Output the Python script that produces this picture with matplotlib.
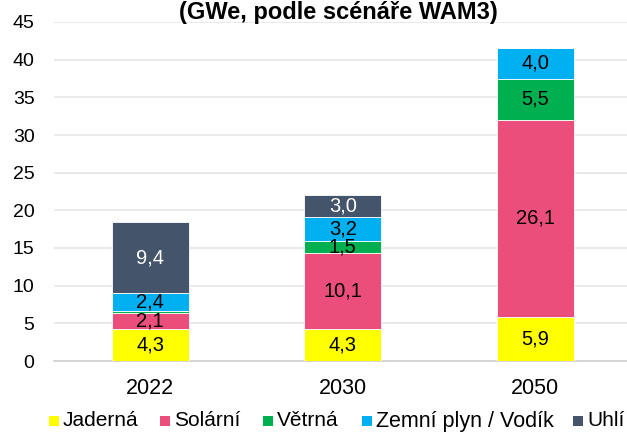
import matplotlib
matplotlib.use("Agg")
import matplotlib.pyplot as plt
from matplotlib.patches import Rectangle
import numpy as np

plt.rcParams['font.family'] = ['Liberation Sans', 'DejaVu Sans']

years = ["2022", "2030", "2050"]
series_names = ["Jaderná", "Solární", "Větrná", "Zemní plyn / Vodík", "Uhlí"]
jaderna = [4.3, 4.3, 5.9]
solarni = [2.1, 10.1, 26.1]
vetrna = [0.2, 1.5, 5.5]
plyn = [2.4, 3.2, 4.0]
uhli = [9.4, 3.0, 0.0]
colors = ["#FFFF00", "#EC4E7B", "#00B050", "#00B0F0", "#44546A"]
label_colors = ["black", "black", "black", "black", "white"]
title = "(GWe, podle scénáře WAM3)"
yticks = [0, 5, 10, 15, 20, 25, 30, 35, 40, 45]

series = [jaderna, solarni, vetrna, plyn, uhli]

W, H = 627, 432
fig = plt.figure(figsize=(W / 100, H / 100), dpi=100)
ax = fig.add_axes([54 / W, 71 / H, 577.5 / W, 339 / H])

x = np.arange(len(years))
bottom = np.zeros(len(years))
for vals, col, lc in zip(series, colors, label_colors):
    vals = np.array(vals)
    ax.bar(x, vals, width=0.4, bottom=bottom, color=col, edgecolor="white",
           linewidth=0.6, zorder=3)
    for xi, v, b in zip(x, vals, bottom):
        if v >= 1.0:
            ax.text(xi, b + v / 2, f"{v:.1f}".replace(".", ","), ha="center",
                    va="center", fontsize=14.5, color=lc, zorder=4)
    bottom += vals

ax.set_xlim(-0.5, 2.5)
ax.set_ylim(0, 45)
ax.set_yticks(yticks)
ax.set_yticklabels([str(t) for t in yticks], fontsize=14)
ax.set_xticks(x)
ax.set_xticklabels(years, fontsize=15.5)
ax.tick_params(axis="both", length=0, colors="black")
ax.tick_params(axis="y", pad=14)
ax.tick_params(axis="x", pad=12)
ax.grid(axis="y", color="#E6E6E6", linewidth=1.2, zorder=0)
for s in ["top", "right", "left"]:
    ax.spines[s].set_visible(False)
ax.spines["bottom"].set_color("#D0D0D0")
ax.spines["bottom"].set_linewidth(1.2)

fig.text(338 / W, 1 - 19 / H, title, ha="center", va="baseline",
         fontsize=17, fontweight="bold")

# legend entries placed at the reference's positions (pixels)
marker_x = [54, 165, 268, 367, 578]
yc = 421
for mx, name, col in zip(marker_x, series_names, colors):
    fig.patches.append(Rectangle(((mx - 5) / W, 1 - (yc + 5) / H), 10 / W, 10 / H,
                                 transform=fig.transFigure, facecolor=col,
                                 edgecolor="none"))
    fig.text((mx + 9) / W, 1 - yc / H, name, ha="left", va="center",
             fontsize=15 if name != series_names[3] else 15.5)

fig.savefig("out.png", dpi=100)
